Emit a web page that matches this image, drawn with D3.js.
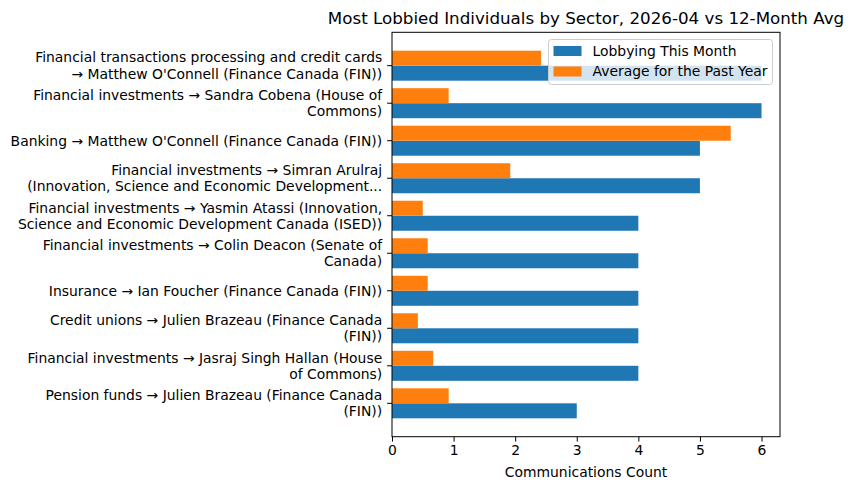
<!DOCTYPE html>
<html>
<head>
<meta charset="utf-8">
<style>
body { margin: 0; background: #fff; }
svg { font-family: "DejaVu Sans", sans-serif; }
</style>
<script src="https://cdn.jsdelivr.net/npm/d3@7"></script>
</head>
<body>
<svg id="chart" width="852" height="490"></svg>
<script>
// each label is split into its two display lines
var labels = [
  ["Financial transactions processing and credit cards", "\u2192 Matthew O'Connell (Finance Canada (FIN))"],
  ["Financial investments \u2192 Sandra Cobena (House of", "Commons)"],
  ["Banking \u2192 Matthew O'Connell (Finance Canada (FIN))"],
  ["Financial investments \u2192 Simran Arulraj", "(Innovation, Science and Economic Development..."],
  ["Financial investments \u2192 Yasmin Atassi (Innovation,", "Science and Economic Development Canada (ISED))"],
  ["Financial investments \u2192 Colin Deacon (Senate of", "Canada)"],
  ["Insurance \u2192 Ian Foucher (Finance Canada (FIN))"],
  ["Credit unions \u2192 Julien Brazeau (Finance Canada", "(FIN))"],
  ["Financial investments \u2192 Jasraj Singh Hallan (House", "of Commons)"],
  ["Pension funds \u2192 Julien Brazeau (Finance Canada", "(FIN))"]
];
var thisMonth = [6, 6, 5, 5, 4, 4, 4, 4, 4, 3];
var pastYear = [2.42, 0.92, 5.5, 1.92, 0.5, 0.58, 0.58, 0.42, 0.67, 0.92];
var xTicks = [0, 1, 2, 3, 4, 5, 6];

var blue = "#1f77b4", orange = "#ff7f0e";
var pL = 392, pR = 780, pT = 32.3, pB = 436.7;

var svg = d3.select("#chart");

var x = d3.scaleLinear().domain([0, 6.3]).range([pL, pR]);
// categories at 0..9, top to bottom, with matplotlib style margins
var y = d3.scaleLinear().domain([-0.89, 9.89]).range([pT, pB]);
var bh = y(0.4) - y(0);

var idx = d3.range(labels.length);

svg.append("g").selectAll("rect")
  .data(idx).enter().append("rect")
  .attr("x", x(0))
  .attr("y", function(i) { return y(i); })
  .attr("width", function(i) { return x(thisMonth[i]) - x(0); })
  .attr("height", bh)
  .attr("fill", blue);

svg.append("g").selectAll("rect")
  .data(idx).enter().append("rect")
  .attr("x", x(0))
  .attr("y", function(i) { return y(i - 0.4); })
  .attr("width", function(i) { return x(pastYear[i]) - x(0); })
  .attr("height", bh)
  .attr("fill", orange);

// frame
svg.append("rect")
  .attr("x", pL).attr("y", pT)
  .attr("width", pR - pL).attr("height", pB - pT)
  .attr("fill", "none").attr("stroke", "#000").attr("stroke-width", 1);

// x axis
var xg = svg.append("g").attr("transform", "translate(0," + pB + ")")
  .call(d3.axisBottom(x).tickValues(xTicks).tickFormat(d3.format("d")).tickSize(4.9).tickPadding(3.5));
xg.select(".domain").remove();
xg.selectAll("text").attr("font-size", 13.9).attr("fill", "#000").attr("font-family", "DejaVu Sans");
xg.selectAll("line").attr("stroke", "#000");

svg.append("text")
  .attr("x", (pL + pR) / 2).attr("y", 477)
  .attr("text-anchor", "middle").attr("font-size", 13.9)
  .text("Communications Count");

// y axis ticks and wrapped labels
var yg = svg.append("g");
idx.forEach(function(i) {
  var ty = y(i);
  yg.append("line").attr("x1", pL - 4.9).attr("x2", pL)
    .attr("y1", ty).attr("y2", ty).attr("stroke", "#000");
  var lines = labels[i];
  var lh = 16.2;
  var t = yg.append("text").attr("text-anchor", "end").attr("font-size", 13.9);
  lines.forEach(function(s, k) {
    t.append("tspan")
      .attr("x", pL - 9.8)
      .attr("y", ty + (k - (lines.length - 1) / 2) * lh)
      .attr("dy", "0.35em")
      .text(s);
  });
});

// title
svg.append("text")
  .attr("x", (pL + pR) / 2).attr("y", 24)
  .attr("text-anchor", "middle").attr("font-size", 16.7)
  .text("Most Lobbied Individuals by Sector, 2026-04 vs 12-Month Avg");

// legend
var lg = svg.append("g").attr("transform", "translate(548.5,39.5)");
lg.append("rect").attr("width", 224).attr("height", 45).attr("rx", 3)
  .attr("fill", "#fff").attr("fill-opacity", 0.8).attr("stroke", "#ccc");
[["Lobbying This Month", blue], ["Average for the Past Year", orange]].forEach(function(d, k) {
  lg.append("rect").attr("x", 5).attr("y", 6.5 + k * 20.5).attr("width", 28).attr("height", 10).attr("fill", d[1]);
  lg.append("text").attr("x", 44).attr("y", 11.5 + k * 20.5).attr("dy", "0.35em")
    .attr("font-size", 13.9).text(d[0]);
});
</script>
</body>
</html>
